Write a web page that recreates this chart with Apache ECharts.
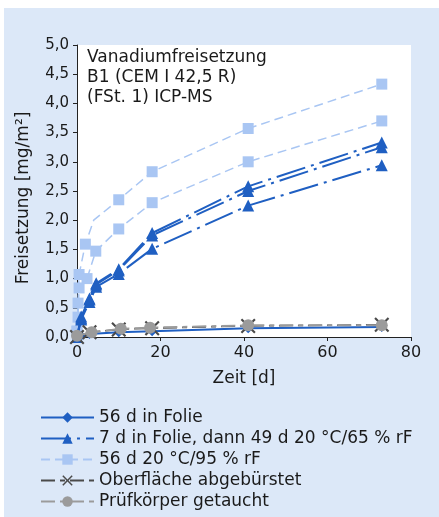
<!DOCTYPE html>
<html><head><meta charset="utf-8">
<script src="https://cdn.jsdelivr.net/npm/echarts@6/dist/echarts.min.js"></script>
<style>html,body{margin:0;padding:0;background:#fff}#c{width:439px;height:517px}</style>
</head><body><div id="c"></div>
<script>
// ---- data ----
const xTicks = [0, 20, 40, 60, 80];
const yTicks = [0, 0.5, 1, 1.5, 2, 2.5, 3, 3.5, 4, 4.5, 5];
const seriesNames = [
  '56 d in Folie',
  '7 d in Folie, dann 49 d 20 °C/65 % rF',
  '56 d 20 °C/95 % rF',
  'Oberfläche abgebürstet',
  'Prüfkörper getaucht'
];
// 56 d in Folie
const folieT = [0, 1, 3, 10, 18, 41, 73];
const folieV = [0.0, 0.02, 0.05, 0.08, 0.10, 0.15, 0.17];
// 7 d Folie, dann 65 % rF (replicates)
const dryT = [0, 1, 3, 4.6, 10, 18, 41, 73];
const dryA = [0.0, 0.35, 0.66, 0.92, 1.16, 1.78, 2.58, 3.33];
const dryB = [0.0, 0.32, 0.64, 0.90, 1.14, 1.74, 2.50, 3.25];
const dryC = [0.0, 0.30, 0.60, 0.86, 1.08, 1.51, 2.25, 2.94];
// 56 d 95 % rF (replicates)
const wetAT = [0, 0.25, 0.5, 2, 4, 10, 18, 41, 73];
const wetAV = [0.10, 0.58, 1.07, 1.59, 2.0, 2.35, 2.83, 3.57, 4.33];
const wetBT = [0, 0.25, 0.5, 2.4, 4.5, 10, 18, 41, 73];
const wetBV = [0.10, 0.34, 0.84, 1.0, 1.47, 1.85, 2.30, 3.00, 3.70];
// Oberfläche abgebürstet
const brushT = [0, 3, 10, 18, 41, 73];
const brushV = [0.0, 0.08, 0.13, 0.15, 0.19, 0.21];
// Prüfkörper getaucht
const dipT = [0, 3.5, 10.5, 17.5, 41, 73];
const dipV = [0.02, 0.08, 0.14, 0.16, 0.20, 0.20];

const zip = (t, v) => t.map((x, i) => [x, v[i]]);
const dark = '#1f5fc2', light = '#a9c6f3', gray1 = '#4a4a4a', gray2 = '#9b9b9b';
const cross = 'path://M0,1 L1,0 L5,4 L9,0 L10,1 L6,5 L10,9 L9,10 L5,6 L1,10 L0,9 L4,5 Z';
const font = 'DejaVu Sans';

const wetB = zip(wetBT, wetBV);
const wetA = zip(wetAT, wetAV).map(p => p[0] === 4 ? {value: p, symbol: 'none'} : p);

const chart = echarts.init(document.getElementById('c'), null, {renderer: 'canvas'});
chart.setOption({
  animation: false,
  backgroundColor: '#ffffff',
  textStyle: {fontFamily: font},
  graphic: [
    {type: 'rect', left: 4, top: 8, shape: {width: 435, height: 509}, style: {fill: '#dce8f8'}, z: -10},
    {type: 'text', left: 87, top: 48, z: 10,
     style: {text: 'Vanadiumfreisetzung\nB1 (CEM I 42,5 R)\n(FSt. 1) ICP-MS', font: '17px "DejaVu Sans"', fill: '#1a1a1a', lineHeight: 20}},
    {type: 'text', x: 24, y: 198, rotation: Math.PI / 2, z: 10,
     style: {text: 'Freisetzung [mg/m²]', font: '17px "DejaVu Sans"', fill: '#1a1a1a', textAlign: 'center', textVerticalAlign: 'middle'}}
  ],
  grid: {left: 77, right: 28, top: 45, bottom: 180, show: true, backgroundColor: '#ffffff', borderWidth: 0},
  legend: {
    orient: 'vertical', left: 35, top: 404, itemWidth: 53, itemHeight: 13, itemGap: 4,
    data: seriesNames,
    textStyle: {fontSize: 17, lineHeight: 17, color: '#1a1a1a', fontFamily: font}
  },
  xAxis: {
    type: 'value', min: xTicks[0], max: xTicks[xTicks.length - 1], interval: 20,
    name: 'Zeit [d]', nameLocation: 'middle', nameGap: 33,
    nameTextStyle: {fontSize: 17, color: '#1a1a1a'},
    axisLine: {lineStyle: {color: '#222', width: 1}},
    axisTick: {show: true, length: 4, lineStyle: {color: '#222'}},
    axisLabel: {fontSize: 16, color: '#1a1a1a', margin: 8},
    splitLine: {show: false}
  },
  yAxis: {
    type: 'value', min: yTicks[0], max: yTicks[yTicks.length - 1], interval: 0.5,
    axisLine: {show: true, lineStyle: {color: '#222', width: 1}},
    axisTick: {show: true, length: 4, lineStyle: {color: '#222'}},
    axisLabel: {fontSize: 15, color: '#1a1a1a', margin: 8, formatter: v => v.toFixed(1).replace('.', ',')},
    splitLine: {show: false}
  },
  series: [
    {name: seriesNames[2], type: 'line', data: wetA, symbol: 'rect', symbolSize: 11,
     itemStyle: {color: light}, lineStyle: {color: light, width: 1.5, type: [9, 5]}, z: 2},
    {name: seriesNames[2], type: 'line', data: wetB, symbol: 'rect', symbolSize: 11,
     itemStyle: {color: light}, lineStyle: {color: light, width: 1.5, type: [9, 5]}, z: 2},
    {name: seriesNames[1], type: 'line', data: zip(dryT, dryC), symbol: 'triangle', symbolSize: 12,
     itemStyle: {color: dark}, lineStyle: {color: dark, width: 2, type: [30, 6, 3, 6]}, z: 3},
    {name: seriesNames[1], type: 'line', data: zip(dryT, dryB), symbol: 'triangle', symbolSize: 12,
     itemStyle: {color: dark}, lineStyle: {color: dark, width: 2, type: [30, 6, 3, 6]}, z: 3},
    {name: seriesNames[1], type: 'line', data: zip(dryT, dryA), symbol: 'triangle', symbolSize: 12,
     itemStyle: {color: dark}, lineStyle: {color: dark, width: 2, type: [30, 6, 3, 6]}, z: 3},
    {name: seriesNames[0], type: 'line', data: zip(folieT, folieV), symbol: 'diamond', symbolSize: 10,
     itemStyle: {color: dark}, lineStyle: {color: dark, width: 2}, z: 4},
    {name: seriesNames[3], type: 'line', data: zip(brushT, brushV), symbol: cross, symbolSize: 15,
     itemStyle: {color: gray1}, lineStyle: {color: gray1, width: 1.5, type: [14, 5, 5, 5]}, z: 5},
    {name: seriesNames[4], type: 'line', data: zip(dipT, dipV), symbol: 'circle', symbolSize: 12,
     itemStyle: {color: gray2}, lineStyle: {color: gray2, width: 2, type: [14, 5, 5, 5]}, z: 6}
  ]
});
</script></body></html>
